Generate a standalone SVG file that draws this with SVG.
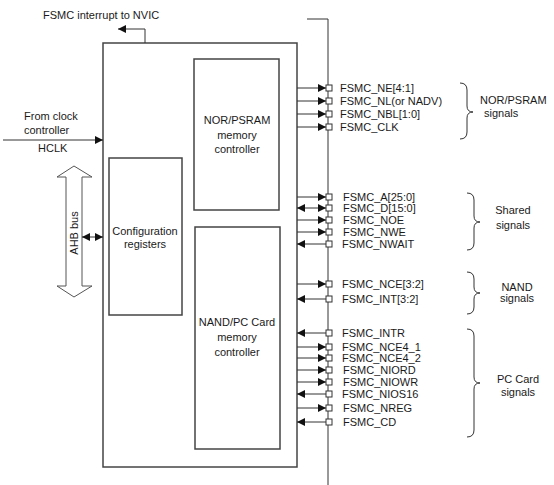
<svg xmlns="http://www.w3.org/2000/svg" width="554" height="485" viewBox="0 0 554 485">
<defs>
<marker id="ah" viewBox="0 0 10 10" refX="10" refY="5" markerWidth="8" markerHeight="8" markerUnits="userSpaceOnUse" orient="auto-start-reverse"><path d="M0,0 L10,5 L0,10 z" fill="#111"/></marker>
</defs>
<style>
text{font-family:"Liberation Sans",Arial,sans-serif;font-size:11px;fill:#1a1a1a}
.c{text-anchor:middle}
.box{fill:#fff;stroke:#444;stroke-width:1.5}
.ln{stroke:#333;stroke-width:1;fill:none}
.arr{stroke:#333;stroke-width:1;fill:none;marker-end:url(#ah)}
.arrs{stroke:#333;stroke-width:1;fill:none;marker-start:url(#ah)}
.arrb{stroke:#333;stroke-width:1;fill:none;marker-start:url(#ah);marker-end:url(#ah)}
.pin{fill:#fff;stroke:#333;stroke-width:1}
.br{stroke:#333;stroke-width:1;fill:none}
</style>
<rect width="554" height="485" fill="#fff"/>
<g id="fsmc"><rect class="box" x="103" y="43" width="194" height="424"/></g>
<g id="nor"><rect class="box" x="194" y="59" width="85" height="151"/>
<text class="c" x="237" y="124">NOR/PSRAM</text><text class="c" x="237" y="139">memory</text><text class="c" x="237" y="153">controller</text></g>
<g id="nand"><rect class="box" x="195" y="227" width="85" height="222"/>
<text class="c" x="237" y="326">NAND/PC Card</text><text class="c" x="237" y="341">memory</text><text class="c" x="237" y="356">controller</text></g>
<g id="config"><rect class="box" x="109" y="158" width="73" height="157"/>
<text class="c" x="145" y="235">Configuration</text><text class="c" x="145" y="248">registers</text></g>
<g id="ahb"><polygon points="74,166 92,177 82,177 82,286 92,286 74,297 57,286 66,286 66,177 57,177" fill="#fff" stroke="#555" stroke-width="1"/>
<text class="c" transform="translate(78,233) rotate(-90)">AHB bus</text></g>
<g id="labels">
<text x="43" y="19">FSMC interrupt to NVIC</text>
<text x="24" y="120">From clock</text>
<text x="24" y="134">controller</text>
<text x="38" y="152">HCLK</text>
</g>
<g id="connectors">
<path class="arr" d="M145,43 V29 H118"/>
<path class="arr" d="M3,140 H103"/>
<path class="arrb" d="M82,237 H103"/>
<path class="ln" d="M307,19 H328 V485"/>
<path class="arr" d="M297,88 H326"/>
<path class="arr" d="M297,101 H326"/>
<path class="arr" d="M297,114 H326"/>
<path class="arr" d="M297,127 H326"/>
<path class="arr" d="M297,197 H326"/>
<path class="arrb" d="M297,208 H326"/>
<path class="arr" d="M297,220 H326"/>
<path class="arr" d="M297,232 H326"/>
<path class="arrs" d="M297,244 H326"/>
<path class="arr" d="M297,284 H326"/>
<path class="arrs" d="M297,299 H326"/>
<path class="arrs" d="M297,333 H326"/>
<path class="arr" d="M297,347 H326"/>
<path class="arr" d="M297,358 H326"/>
<path class="arr" d="M297,370 H326"/>
<path class="arr" d="M297,382 H326"/>
<path class="arrs" d="M297,394 H326"/>
<path class="arr" d="M297,408 H326"/>
<path class="arrs" d="M297,422 H326"/>
</g>
<g id="pins">
<rect class="pin" x="326" y="85" width="6" height="6"/>
<rect class="pin" x="326" y="98" width="6" height="6"/>
<rect class="pin" x="326" y="111" width="6" height="6"/>
<rect class="pin" x="326" y="124" width="6" height="6"/>
<rect class="pin" x="326" y="194" width="6" height="6"/>
<rect class="pin" x="326" y="205" width="6" height="6"/>
<rect class="pin" x="326" y="217" width="6" height="6"/>
<rect class="pin" x="326" y="229" width="6" height="6"/>
<rect class="pin" x="326" y="241" width="6" height="6"/>
<rect class="pin" x="326" y="281" width="6" height="6"/>
<rect class="pin" x="326" y="296" width="6" height="6"/>
<rect class="pin" x="326" y="330" width="6" height="6"/>
<rect class="pin" x="326" y="344" width="6" height="6"/>
<rect class="pin" x="326" y="355" width="6" height="6"/>
<rect class="pin" x="326" y="367" width="6" height="6"/>
<rect class="pin" x="326" y="379" width="6" height="6"/>
<rect class="pin" x="326" y="391" width="6" height="6"/>
<rect class="pin" x="326" y="405" width="6" height="6"/>
<rect class="pin" x="326" y="419" width="6" height="6"/>
</g>
<g id="signals">
<text x="340" y="92">FSMC_NE[4:1]</text>
<text x="340" y="105">FSMC_NL(or NADV)</text>
<text x="340" y="118">FSMC_NBL[1:0]</text>
<text x="340" y="131">FSMC_CLK</text>
<text x="343" y="201">FSMC_A[25:0]</text>
<text x="343" y="212">FSMC_D[15:0]</text>
<text x="343" y="224">FSMC_NOE</text>
<text x="343" y="236">FSMC_NWE</text>
<text x="342" y="248">FSMC_NWAIT</text>
<text x="342" y="288">FSMC_NCE[3:2]</text>
<text x="342" y="303">FSMC_INT[3:2]</text>
<text x="342" y="337">FSMC_INTR</text>
<text x="342" y="351">FSMC_NCE4_1</text>
<text x="342" y="362">FSMC_NCE4_2</text>
<text x="343" y="374">FSMC_NIORD</text>
<text x="343" y="386">FSMC_NIOWR</text>
<text x="342" y="398">FSMC_NIOS16</text>
<text x="343" y="412">FSMC_NREG</text>
<text x="343" y="426">FSMC_CD</text>
</g>
<g id="braces">
<path class="br" d="M460,83 Q467,83 467,90 V106 Q467,112 473,112 Q467,112 467,118 V132 Q467,139 460,139"/>
<path class="br" d="M467,193 Q474,193 474,200 V216 Q474,222 480,222 Q474,222 474,228 V243 Q474,250 467,250"/>
<path class="br" d="M467,272 Q474,272 474,279 V287 Q474,293 480,293 Q474,293 474,299 V307 Q474,314 467,314"/>
<path class="br" d="M467,329 Q474,329 474,336 V377 Q474,383 480,383 Q474,383 474,389 V430 Q474,437 467,437"/>
<text x="480" y="104">NOR/PSRAM</text>
<text x="484" y="117">signals</text>
<text class="c" x="513" y="214">Shared</text>
<text class="c" x="513" y="229">signals</text>
<text class="c" x="517" y="291">NAND</text>
<text class="c" x="517" y="302">signals</text>
<text class="c" x="518" y="383">PC Card</text>
<text class="c" x="518" y="396">signals</text>
</g>
</svg>
